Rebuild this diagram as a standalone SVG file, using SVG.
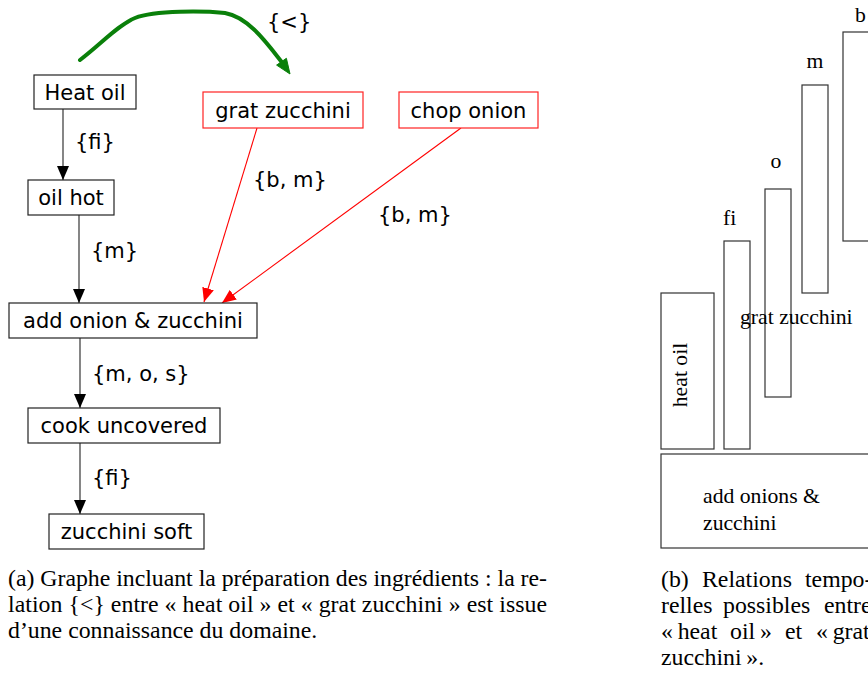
<svg xmlns="http://www.w3.org/2000/svg" width="868" height="680" viewBox="0 0 868 680">
<defs>
<style>
.nb{fill:#fff;stroke:#222;stroke-width:1.2}
.nr{fill:#fff;stroke:#f22;stroke-width:1.2}
.t{font-family:"DejaVu Sans",sans-serif;font-size:21px;fill:#000}
.tm{text-anchor:middle}
.s{font-family:"Liberation Serif","Times New Roman",serif;font-size:21.7px;fill:#000}
.c{font-family:"Liberation Serif","Times New Roman",serif;font-size:23.8px;fill:#000}
.bar{fill:none;stroke:#333;stroke-width:1.2}
.eb{stroke:#444;stroke-width:1.3;fill:none}
.er{stroke:#f00;stroke-width:1.1;fill:none}
</style>
<marker id="ab" markerWidth="14" markerHeight="12" refX="14" refY="6" orient="auto" markerUnits="userSpaceOnUse"><path d="M0,0 L14,6 L0,12 Z" fill="#000"/></marker>
<marker id="ar" markerWidth="14" markerHeight="12" refX="14" refY="6" orient="auto" markerUnits="userSpaceOnUse"><path d="M0,0 L14,6 L0,12 Z" fill="#f00"/></marker>
</defs>
<rect width="868" height="680" fill="#fff"/>

<g id="connectors">
<line class="eb" x1="63" y1="109" x2="63" y2="180" marker-end="url(#ab)"/>
<line class="eb" x1="79" y1="215" x2="79" y2="303" marker-end="url(#ab)"/>
<line class="eb" x1="80" y1="338" x2="80" y2="408" marker-end="url(#ab)"/>
<line class="eb" x1="80" y1="443" x2="80" y2="514" marker-end="url(#ab)"/>
<line class="er" x1="257" y1="128" x2="204" y2="302" marker-end="url(#ar)"/>
<line class="er" x1="461" y1="128" x2="222" y2="303" marker-end="url(#ar)"/>
<path d="M80,60 C100,45 118,25 135,18 C155,10 205,11 225,13 C248,17 266,42 281.5,61.7" fill="none" stroke="#0a800a" stroke-width="4" stroke-linecap="round"/>
<polygon points="290,74 286.4,58.3 276.6,65.1" fill="#0a800a" stroke="#0a800a" stroke-width="1"/>
<text class="t" x="267" y="29">{&lt;}</text>
<text class="t" x="75" y="149">{fi}</text>
<text class="t" x="91" y="258">{m}</text>
<text class="t" x="92" y="381">{m, o, s}</text>
<text class="t" x="92" y="485">{fi}</text>
<text class="t" x="253" y="187">{b, m}</text>
<text class="t" x="378" y="222">{b, m}</text>
</g>

<g id="heat-oil"><rect class="nb" x="34" y="75" width="102" height="34"/><text class="t tm" x="85" y="100">Heat oil</text></g>
<g id="grat-zucchini"><rect class="nr" x="203" y="92" width="160" height="36"/><text class="t tm" x="283" y="117.5">grat zucchini</text></g>
<g id="chop-onion"><rect class="nr" x="399" y="92" width="139" height="36"/><text class="t tm" x="468.5" y="117.5">chop onion</text></g>
<g id="oil-hot"><rect class="nb" x="28" y="180" width="86" height="35"/><text class="t tm" x="71" y="205">oil hot</text></g>
<g id="add-onion"><rect class="nb" x="9" y="303" width="248" height="35"/><text class="t tm" x="133" y="328">add onion &amp; zucchini</text></g>
<g id="cook-uncovered"><rect class="nb" x="28" y="408" width="192" height="35"/><text class="t tm" x="124" y="433">cook uncovered</text></g>
<g id="zucchini-soft"><rect class="nb" x="49" y="514" width="155" height="35"/><text class="t tm" x="126.5" y="539">zucchini soft</text></g>

<g id="timeline">
<rect class="bar" x="843" y="32" width="40" height="209"/>
<text class="s" x="855" y="22">b</text>
<rect class="bar" x="802" y="85" width="26" height="208"/>
<text class="s" x="815" y="68" text-anchor="middle">m</text>
<rect class="bar" x="765" y="189" width="26" height="208"/>
<text class="s" x="776" y="168" text-anchor="middle">o</text>
<rect class="bar" x="724" y="241" width="26" height="208"/>
<text class="s" x="723" y="225">fi</text>
<rect class="bar" x="661" y="293" width="53" height="156"/>
<text class="s" text-anchor="middle" transform="translate(687,375) rotate(-90)">heat oil</text>
<text class="s" x="740" y="324">grat zucchini</text>
<rect class="bar" x="661" y="454" width="230" height="94"/>
<text class="s" x="703" y="503">add onions &amp;</text>
<text class="s" x="703" y="530">zucchini</text>
</g>

<g id="captions">
<text class="c" x="8" y="586" textLength="539" lengthAdjust="spacing">(a)  Graphe incluant la préparation des ingrédients : la re-</text>
<text class="c" x="8" y="612" textLength="539" lengthAdjust="spacing">lation {&lt;} entre « heat oil » et « grat zucchini » est issue</text>
<text class="c" x="8" y="638">d’une connaissance du domaine.</text>
<text class="c" y="587"><tspan x="661">(b)</tspan><tspan x="702">Relations</tspan><tspan x="805">tempo-</tspan></text>
<text class="c" y="613"><tspan x="661">relles</tspan><tspan x="723">possibles</tspan><tspan x="824">entre</tspan></text>
<text class="c" y="639"><tspan x="661">«&#8201;heat</tspan><tspan x="730">oil&#8201;»</tspan><tspan x="785">et</tspan><tspan x="816">«&#8201;grat</tspan></text>
<text class="c" x="661" y="665">zucchini&#8201;».</text>
</g>
</svg>
